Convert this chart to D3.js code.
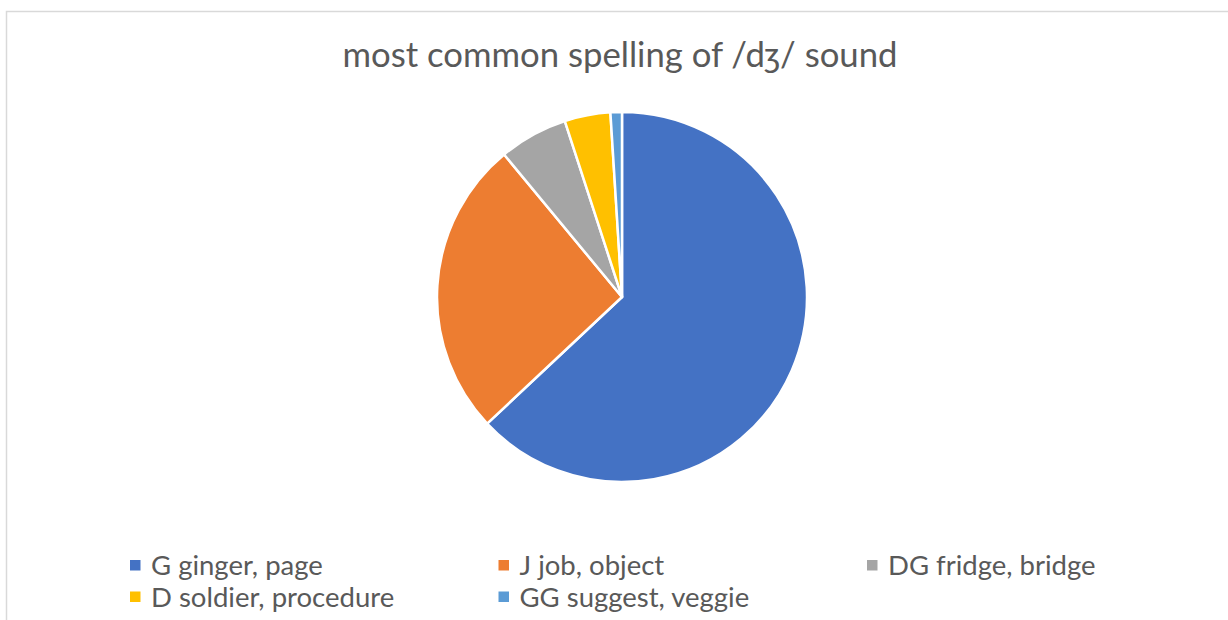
<!DOCTYPE html>
<html>
<head>
<meta charset="utf-8">
<script src="https://cdn.jsdelivr.net/npm/d3@7"></script>
<style>
  body { margin: 0; background: #fff; }
  svg { display: block; }
</style>
</head>
<body>
<div id="vis"></div>
<script>
var W = 1228, H = 620;

// chart data
var labels = ["G ginger, page", "J job, object", "DG fridge, bridge", "D soldier, procedure", "GG suggest, veggie"];
var values = [63, 26, 6, 4, 1];
var colors = ["#4472C4", "#ED7D31", "#A5A5A5", "#FFC000", "#5B9BD5"];
var title = "most common spelling of /dʒ/ sound";

var cx = 622, cy = 297, r = 185;
var font = "Lato, 'Open Sans', sans-serif";

var svg = d3.select("#vis").append("svg")
  .attr("width", W)
  .attr("height", H);

// chart area border
svg.append("rect")
  .attr("x", 6.5).attr("y", 11.5)
  .attr("width", W).attr("height", H)
  .attr("fill", "#fff")
  .attr("stroke", "#d9d9d9")
  .attr("stroke-width", 1.5);

svg.append("text")
  .attr("x", 620).attr("y", 67)
  .attr("text-anchor", "middle")
  .attr("fill", "#595959")
  .attr("font-family", font)
  .attr("font-size", 34.7)
  .text(title);

var pie = d3.pie().sort(null)(values);
var arc = d3.arc().innerRadius(0).outerRadius(r);

svg.append("g")
  .attr("transform", "translate(" + cx + "," + cy + ")")
  .selectAll("path")
  .data(pie)
  .enter().append("path")
  .attr("d", arc)
  .attr("fill", function(d, i) { return colors[i]; })
  .attr("stroke", "#fff")
  .attr("stroke-width", 2.5)
  .attr("stroke-linejoin", "round");

// legend, 3 per row
var colX = d3.scalePoint().domain([0, 1, 2]).range([130, 867]);
var rowY = d3.scalePoint().domain([0, 1]).range([565.5, 597]);

var lg = svg.selectAll(".leg")
  .data(labels)
  .enter().append("g")
  .attr("class", "leg")
  .attr("transform", function(d, i) {
    return "translate(" + colX(i % 3) + "," + rowY(Math.floor(i / 3)) + ")";
  });

lg.append("rect")
  .attr("x", 0).attr("y", -5.5)
  .attr("width", 10.5).attr("height", 10.5)
  .attr("fill", function(d, i) { return colors[i]; });

lg.append("text")
  .attr("x", 21).attr("y", 0)
  .attr("dy", "0.35em")
  .attr("fill", "#595959")
  .attr("font-family", font)
  .attr("font-size", 27.5)
  .text(function(d) { return d; });
</script>
</body>
</html>
